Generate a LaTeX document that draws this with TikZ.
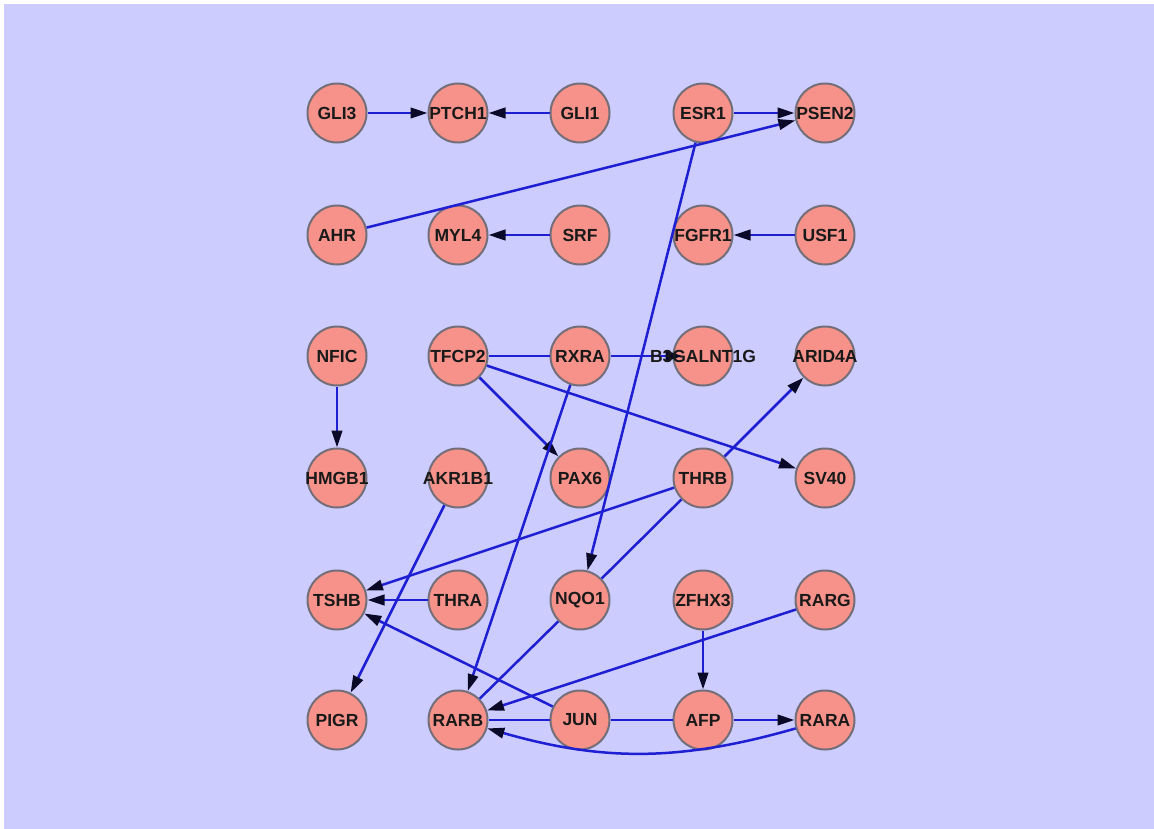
\documentclass[tikz,border=0pt]{standalone}
\usepackage{fontspec}
\setmainfont{Liberation Sans}
\usetikzlibrary{arrows.meta}
\definecolor{bgc}{RGB}{204,204,255}
\definecolor{nodefill}{RGB}{246,146,138}
\definecolor{nodeline}{RGB}{115,110,120}
\definecolor{edgec}{RGB}{30,30,210}
\definecolor{tipc}{RGB}{10,10,40}
\tikzset{
  gene/.style={circle, draw=nodeline, line width=2pt, fill=nodefill, minimum size=59pt, inner sep=0pt},
  genetext/.style={font=\fontsize{17.5}{19}\selectfont\bfseries, text=black!90, inner sep=0pt},
  edge/.style={draw=edgec, line width=2.5pt},
  arr/.style={edge, -{Triangle[length=17pt,width=10.5pt,color=tipc]}},
}
\begin{document}
\begin{tikzpicture}[x=1pt,y=-1pt]
\useasboundingbox (0,0) rectangle (1154,828);
\fill[white] (-5,-5) rectangle (1160,834);
\fill[bgc] (4,4) rectangle (1160,834);
% circles
\foreach \n/\x/\y in {
 gli3/337/113, ptch1/458/113, gli1/580/113, esr1/703/113, psen2/825/113,
 ahr/337/235, myl4/458/235, srf/580/235, fgfr1/703/235, usf1/825/235,
 nfic/337/356, tfcp2/458/356, rxra/580/356, b3g/703/356, arid4a/825/356,
 hmgb1/337/478, akr1b1/458/478, pax6/580/478, thrb/703/478, sv40/825/478,
 tshb/337/600, thra/458/600, nqo1/580/600, zfhx3/703/600, rarg/825/600,
 pigr/337/720, rarb/458/720, jun/580/720, afp/703/720, rara/825/720}
 {\node[gene] (\n) at (\x,\y) {};}
% edges
\draw[arr] (gli3) -- (ptch1);
\draw[arr] (gli1) -- (ptch1);
\draw[arr] (esr1) -- (psen2);
\draw[arr] (ahr) -- (psen2);
\draw[arr] (srf) -- (myl4);
\draw[arr] (usf1) -- (fgfr1);
\draw[arr] (nfic) -- (hmgb1);
\draw[edge] (tfcp2) -- (rxra);
\draw[arr, shorten >=-10pt] (rxra) -- (b3g);
\draw[arr] (tfcp2) -- (pax6);
\draw[arr] (tfcp2) -- (sv40);
\draw[arr] (rxra) -- (rarb);
\draw[arr] (esr1) -- (nqo1);
\draw[arr] (thrb) -- (arid4a);
\draw[arr] (thrb) -- (tshb);
\draw[arr] (thra) -- (tshb);
\draw[arr] (jun) -- (tshb);
\draw[arr] (akr1b1) -- (pigr);
\draw[edge] (thrb) -- (nqo1);
\draw[edge] (nqo1) -- (rarb);
\draw[arr] (zfhx3) -- (afp);
\draw[arr] (rarg) -- (rarb);
\draw[edge] (rarb) -- (jun);
\draw[edge] (jun) -- (afp);
\draw[arr] (afp) -- (rara);
\draw[arr] (rara) to[out=196,in=-16] (rarb);
% labels
\foreach \n/\t in {
 gli3/GLI3, ptch1/PTCH1, gli1/GLI1, esr1/ESR1, psen2/PSEN2,
 ahr/AHR, myl4/MYL4, srf/SRF, fgfr1/FGFR1, usf1/USF1,
 nfic/NFIC, tfcp2/TFCP2, rxra/RXRA, b3g/B3GALNT1G, arid4a/ARID4A,
 hmgb1/HMGB1, akr1b1/AKR1B1, pax6/PAX6, thrb/THRB, sv40/SV40,
 tshb/TSHB, thra/THRA, nqo1/NQO1, zfhx3/ZFHX3, rarg/RARG,
 pigr/PIGR, rarb/RARB, jun/JUN, afp/AFP, rara/RARA}
 {\node[genetext] (\n-t) at (\n.center) {\t};}
\end{tikzpicture}
\end{document}
